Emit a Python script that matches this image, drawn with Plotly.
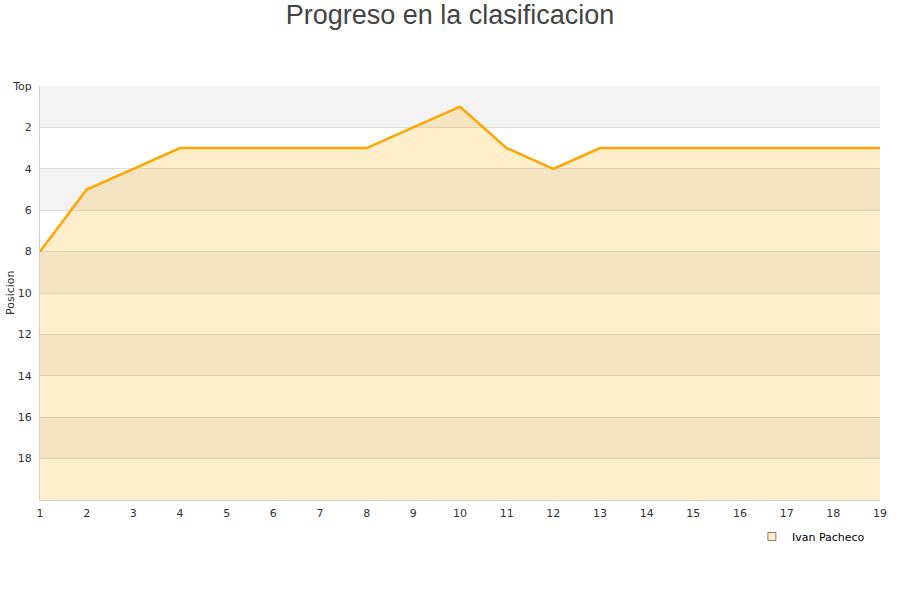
import plotly.graph_objects as go

jornadas = list(range(1, 20))
posiciones = [8, 5, 4, 3, 3, 3, 3, 3, 2, 1, 3, 4, 3, 3, 3, 3, 3, 3, 3]
ytick_vals = [0, 2, 4, 6, 8, 10, 12, 14, 16, 18]
ytick_text = ["Top", "2", "4", "6", "8", "10", "12", "14", "16", "18"]
fondo = [20] * len(jornadas)
jugador = "Ivan Pacheco"

fig = go.Figure()
fig.add_trace(go.Scatter(x=jornadas, y=fondo, mode="lines", line=dict(width=0),
                         showlegend=False, hoverinfo="skip"))
fig.add_trace(go.Scatter(x=jornadas, y=posiciones, mode="lines", fill="tonexty",
                         fillcolor="rgba(255,170,0,0.2)",
                         line=dict(color="#ffa500", width=2.5), showlegend=False,
                         name=jugador))
fig.add_trace(go.Scatter(x=[None], y=[None], mode="markers", name=jugador,
                         marker=dict(symbol="square", size=8, color="#fdeccb",
                                     line=dict(color="#8a7a5a", width=1))))

shapes = []
for y0 in range(0, 20, 4):
    shapes.append(dict(type="rect", xref="paper", yref="y", x0=0, x1=1, y0=y0, y1=y0 + 2,
                       fillcolor="#f3f3f3", line=dict(width=0), layer="below"))

fig.update_layout(
    width=900, height=600,
    margin=dict(l=40, r=20, t=86, b=100, autoexpand=False),
    paper_bgcolor="white", plot_bgcolor="white",
    font=dict(family="DejaVu Sans", size=11, color="#333"),
    title=dict(text="Progreso en la clasificacion", x=0.5, xanchor="center", y=0.975, yanchor="middle",
               font=dict(family="Liberation Sans, Arial", size=27, color="#444")),
    shapes=shapes,
    annotations=[dict(text="Posicion", textangle=-90, xref="paper", yref="paper",
                      x=-30 / 840, y=0.5, xanchor="center", yanchor="middle", showarrow=False,
                      font=dict(size=11, color="#333"))],
    xaxis=dict(range=[1, 19], tickvals=jornadas, showgrid=False, zeroline=False, automargin=False,
               showline=True, linecolor="#d0d0d0", ticks="", ticklabelstandoff=3,
               tickfont=dict(size=11, color="#333")),
    yaxis=dict(range=[20, 0], tickvals=ytick_vals, ticktext=ytick_text, showgrid=True, automargin=False,
               gridcolor="#dddddd", zeroline=False, showline=True, linecolor="#d0d0d0",
               ticks="", ticklabelstandoff=5,
               tickfont=dict(size=11, color="#333")),
    legend=dict(x=0.988, y=-0.053, xanchor="right", yanchor="top", bgcolor="rgba(0,0,0,0)",
                font=dict(size=11, color="#000"), itemwidth=30),
)

fig.write_html("out.html", config={"displayModeBar": False},
               post_script="document.body.style.margin='0';")
